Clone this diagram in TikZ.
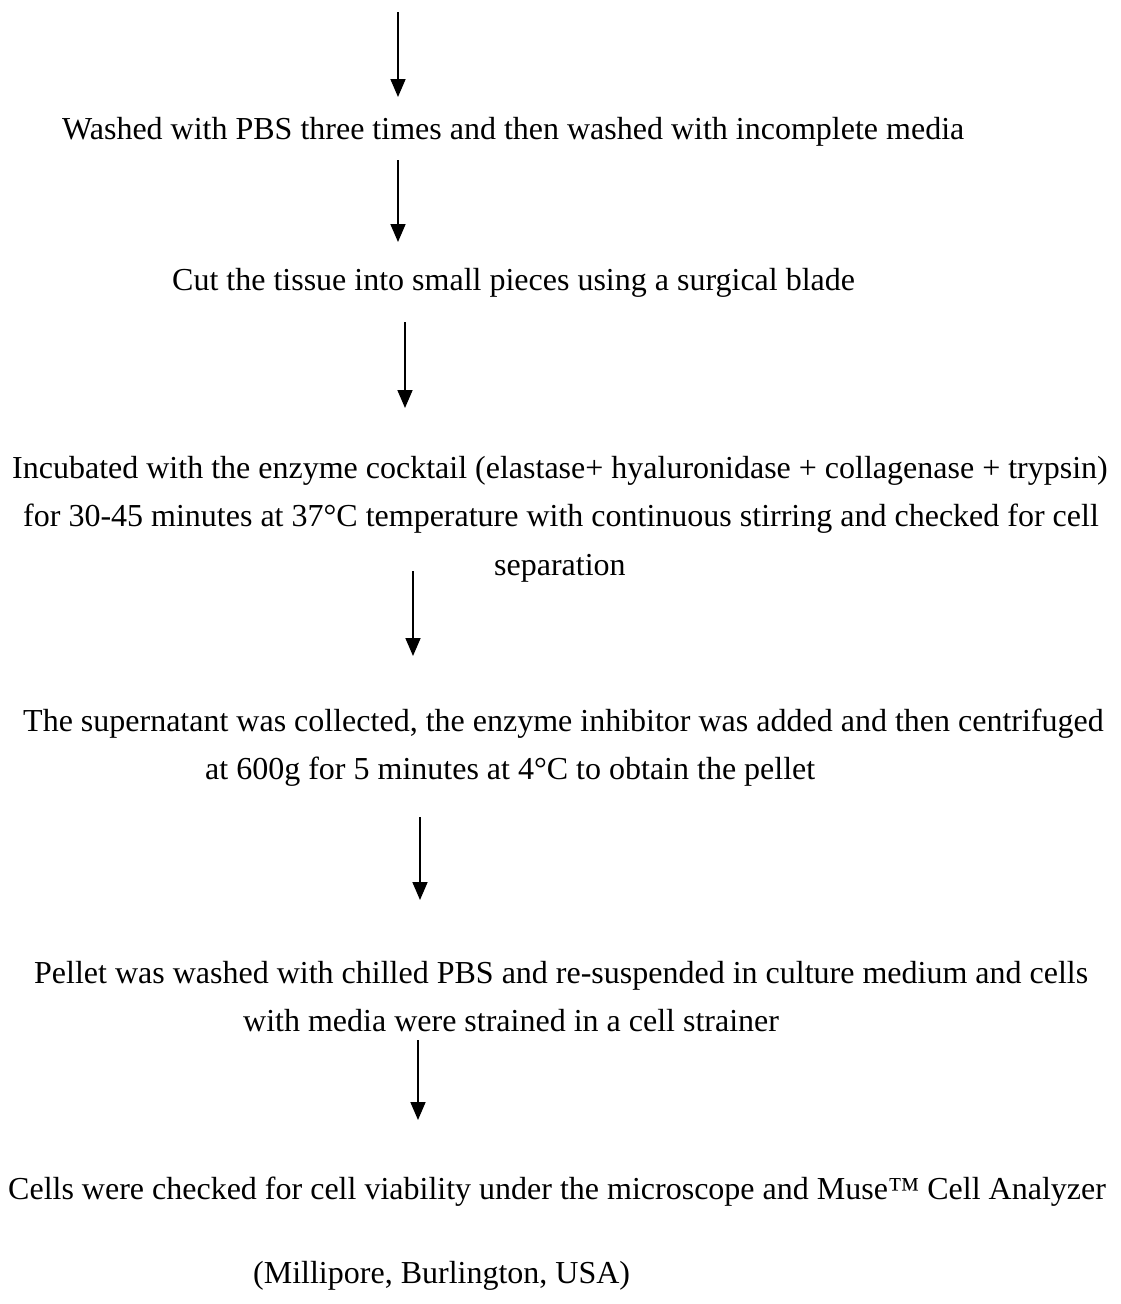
\documentclass[tikz,border=0pt]{standalone}
\usepackage{fontspec}
\setmainfont{Liberation Serif}
\usetikzlibrary{arrows.meta}
\tikzset{
  txt/.style={anchor=base west,inner sep=0pt,font=\fontsize{32}{38}\selectfont},
  arr/.style={line width=1.7pt,-{Triangle[width=15pt,length=18pt]}}
}
\begin{document}
\begin{tikzpicture}[x=1pt,y=-1pt]
\useasboundingbox (0,0) rectangle (1120,1304);
% text lines, left end and baseline
\node[txt] (wash) at (62,139) {Washed with PBS three times and then washed with incomplete media};
\node[txt] (cut) at (172,290) {Cut the tissue into small pieces using a surgical blade};
\node[txt] (incA) at (12,478) {Incubated with the enzyme cocktail (elastase+ hyaluronidase + collagenase + trypsin)};
\node[txt] (incB) at (23,526) {for 30-45 minutes at 37°C temperature with continuous stirring and checked for cell};
\node[txt] (incC) at (494,575) {separation};
\node[txt] (supA) at (23,731) {The supernatant was collected, the enzyme inhibitor was added and then centrifuged};
\node[txt] (supB) at (205,779) {at 600g for 5 minutes at 4°C to obtain the pellet};
\node[txt] (pelA) at (34,983) {Pellet was washed with chilled PBS and re-suspended in culture medium and cells};
\node[txt] (pelB) at (243,1031) {with media were strained in a cell strainer};
\node[txt] (celA) at (8,1199) {Cells were checked for cell viability under the microscope and Muse™ Cell Analyzer};
\node[txt] (celB) at (253,1283) {(Millipore, Burlington, USA)};
% arrow ends
\coordinate (s1) at (398,12);   \coordinate (e1) at (398,97);
\coordinate (s2) at (398,160);  \coordinate (e2) at (398,242);
\coordinate (s3) at (405,322);  \coordinate (e3) at (405,408);
\coordinate (s4) at (413,571);  \coordinate (e4) at (413,656);
\coordinate (s5) at (420,817);  \coordinate (e5) at (420,900);
\coordinate (s6) at (418,1040); \coordinate (e6) at (418,1120);
\foreach \i in {1,...,6}
  \draw[arr] (s\i) -- (e\i);
\end{tikzpicture}
\end{document}
